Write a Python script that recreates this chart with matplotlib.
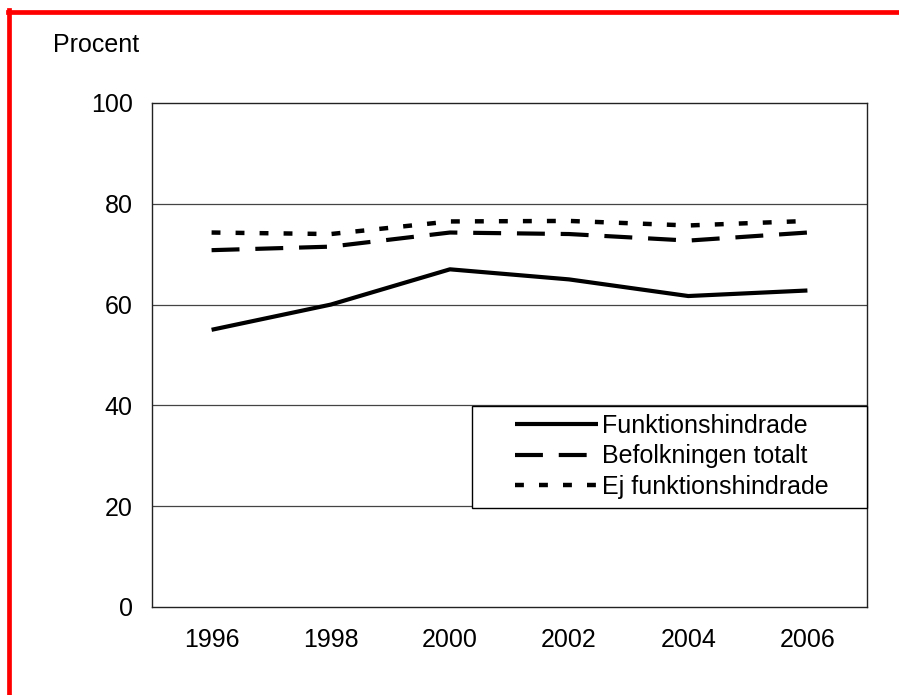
import matplotlib
matplotlib.use("Agg")
import matplotlib.pyplot as plt
from matplotlib.lines import Line2D
from matplotlib.patches import Rectangle

years = ["1996", "1998", "2000", "2002", "2004", "2006"]
funktionshindrade = [55.0, 60.0, 67.0, 65.0, 61.7, 62.8]
befolkningen = [70.8, 71.5, 74.3, 74.0, 72.7, 74.3]
ej_funktionshindrade = [74.3, 74.0, 76.5, 76.6, 75.7, 76.6]
series_labels = ["Funktionshindrade", "Befolkningen totalt", "Ej funktionshindrade"]
yticks = [0, 20, 40, 60, 80, 100]

plt.rcParams['font.family'] = ['Liberation Sans', 'DejaVu Sans']

fig = plt.figure(figsize=(8.99, 6.95), dpi=100)
ax = fig.add_axes([152/899, 1-607/695, 715/899, 504/695])

x = [i + 0.5 for i in range(len(years))]
lw = 3.0
ax.plot(x, funktionshindrade, color='black', lw=lw, solid_capstyle='butt',
        label=series_labels[0], zorder=3)
ax.plot(x, befolkningen, color='black', lw=lw, dashes=(6.7, 3.8),
        dash_capstyle='butt', label=series_labels[1], zorder=3)
ax.plot(x, ej_funktionshindrade, color='black', lw=lw + 0.2, dashes=(2.0, 3.4),
        dash_capstyle='butt', label=series_labels[2], zorder=3)

ax.set_xlim(0, len(years))
ax.set_ylim(0, 100)
ax.set_xticks(x)
ax.set_xticklabels(years)
ax.set_yticks(yticks)
ax.tick_params(axis='both', length=0, labelsize=18)
ax.tick_params(axis='y', pad=14)
ax.tick_params(axis='x', pad=15)
for v in yticks[1:-1]:
    ax.axhline(v, color='#444444', lw=0.9, zorder=1)
for s in ax.spines.values():
    s.set_color('#222222')
    s.set_linewidth(1.0)

# legend frame
ax.add_patch(Rectangle((320/715, (607-508)/504), 395/715, 102/504,
                       transform=ax.transAxes, facecolor='white',
                       edgecolor='black', lw=1.0, zorder=4, clip_on=False))
leg = ax.legend(loc='upper left', bbox_to_anchor=(363/715, (607-414)/504),
                fontsize=18, frameon=False, handlelength=3.3,
                handletextpad=0.2, borderpad=0.0, labelspacing=0.26,
                borderaxespad=0)
leg.set_zorder(5)

fig.text(53/899, 1-45/695, "Procent", fontsize=18, ha='left', va='center')

# red border top and left
fig.add_artist(Line2D([8/899, 1], [1-12/695, 1-12/695], color='red', lw=3.4,
                      transform=fig.transFigure))
fig.add_artist(Line2D([8.5/899, 8.5/899], [0, 1-10/695], color='red', lw=3.4,
                      transform=fig.transFigure))

fig.savefig("out.png", dpi=100)
